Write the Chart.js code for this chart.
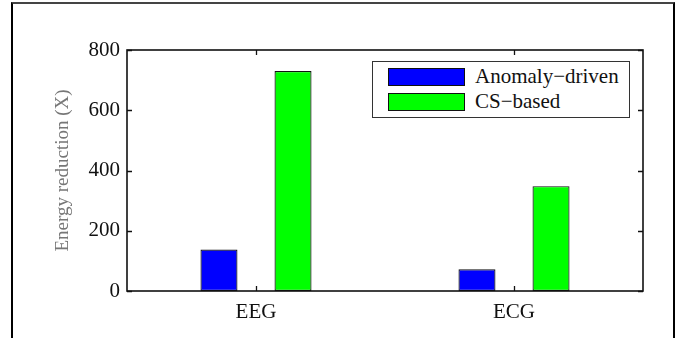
<!DOCTYPE html>
<html>
<head>
<meta charset="utf-8">
<script src="https://cdn.jsdelivr.net/npm/chart.js@4/dist/chart.umd.min.js"></script>
<style>
  html, body { margin: 0; padding: 0; background: #fff; }
  #wrap { position: relative; width: 683px; height: 338px; overflow: hidden; }
  #frame { position: absolute; left: 11px; top: 2px; width: 664px; height: 400px;
           border: 2px solid #000; border-top-color: #444; box-sizing: border-box; }
  #c { position: absolute; left: 0; top: 0; }
  #legend { position: absolute; left: 372px; top: 61px; width: 258px; height: 57px;
            box-sizing: border-box; border: 1.5px solid #333; background: #fff;
            font-family: "Liberation Serif", "Times New Roman", serif; font-size: 21px; color: #111; }
  .row { position: absolute; left: 15px; height: 19px; display: flex; align-items: center; }
  .sw { width: 77px; height: 18px; border: 1px solid #111; box-sizing: border-box; margin-right: 10px; }
  .lab { line-height: 19px; white-space: nowrap; }
</style>
</head>
<body>
<div id="wrap">
  <div id="frame"></div>
  <canvas id="c" width="683" height="338"></canvas>
  <div id="legend"></div>
</div>
<script>
// Signal types and energy-reduction factors per compression scheme
const categories = ['EEG', 'ECG'];
const anomalyDriven = [138, 72];
const csBased = [730, 348];
const yTicks = [0, 200, 400, 600, 800];
const seriesNames = ['Anomaly\u2212driven', 'CS\u2212based'];

const serif = '"Liberation Serif", "Times New Roman", serif';

// Boxed axes with inward-pointing tick marks on all four sides
const boxAxes = {
  id: 'boxAxes',
  afterDatasetsDraw(chart) {
    const { ctx, chartArea: a, scales } = chart;
    ctx.save();
    ctx.strokeStyle = '#111';
    ctx.lineWidth = 1.3;
    ctx.beginPath();
    yTicks.forEach(v => {
      const y = Math.round(scales.y.getPixelForValue(v)) + 0.5;
      ctx.moveTo(a.left, y); ctx.lineTo(a.left + 5, y);
      ctx.moveTo(a.right, y); ctx.lineTo(a.right - 5, y);
    });
    categories.forEach((c, i) => {
      const x = Math.round(scales.x.getPixelForValue(i)) + 0.5;
      ctx.moveTo(x, a.bottom); ctx.lineTo(x, a.bottom - 5);
      ctx.moveTo(x, a.top); ctx.lineTo(x, a.top + 5);
    });
    ctx.stroke();
    ctx.lineWidth = 1.6;
    ctx.strokeRect(a.left, a.top, a.right - a.left, a.bottom - a.top);
    ctx.restore();
  }
};

const chart = new Chart(document.getElementById('c'), {
  type: 'bar',
  data: {
    labels: categories,
    datasets: [
      { label: seriesNames[0], data: anomalyDriven, backgroundColor: '#0000ff',
        borderColor: '#111', borderWidth: 1.2, borderSkipped: false,
        categoryPercentage: 0.574, barPercentage: 0.5 },
      { label: seriesNames[1], data: csBased, backgroundColor: '#00ff00',
        borderColor: '#111', borderWidth: 1.2, borderSkipped: false,
        categoryPercentage: 0.574, barPercentage: 0.5 }
    ]
  },
  options: {
    responsive: false,
    animation: false,
    layout: { padding: { left: 0, right: 40, top: 50, bottom: 0 } },
    plugins: { legend: { display: false }, tooltip: { enabled: false } },
    scales: {
      x: {
        offset: true,
        grid: { display: false, drawTicks: false },
        border: { display: false },
        ticks: { color: '#111', padding: 9, font: { family: serif, size: 21 } },
        afterFit(s) { s.height = 47; }
      },
      y: {
        min: 0, max: 800,
        afterBuildTicks(s) { s.ticks = yTicks.map(v => ({ value: v })); },
        grid: { display: false, drawTicks: false },
        border: { display: false },
        ticks: { color: '#111', padding: 7, font: { family: serif, size: 21 } },
        title: { display: true, text: 'Energy reduction (X)', color: '#777',
                 font: { family: serif, size: 19 }, padding: { top: 52, bottom: 0 } },
        afterFit(s) { s.width = 127; }
      }
    }
  },
  plugins: [boxAxes]
});

// Legend panel built from the chart's datasets
const legend = document.getElementById('legend');
chart.data.datasets.forEach((ds, i) => {
  const row = document.createElement('div');
  row.className = 'row';
  row.style.top = (i === 0 ? 5 : 30) + 'px';
  const sw = document.createElement('div');
  sw.className = 'sw';
  sw.style.background = ds.backgroundColor;
  const lab = document.createElement('span');
  lab.className = 'lab';
  lab.textContent = ds.label;
  row.appendChild(sw); row.appendChild(lab);
  legend.appendChild(row);
});
</script>
</body>
</html>
